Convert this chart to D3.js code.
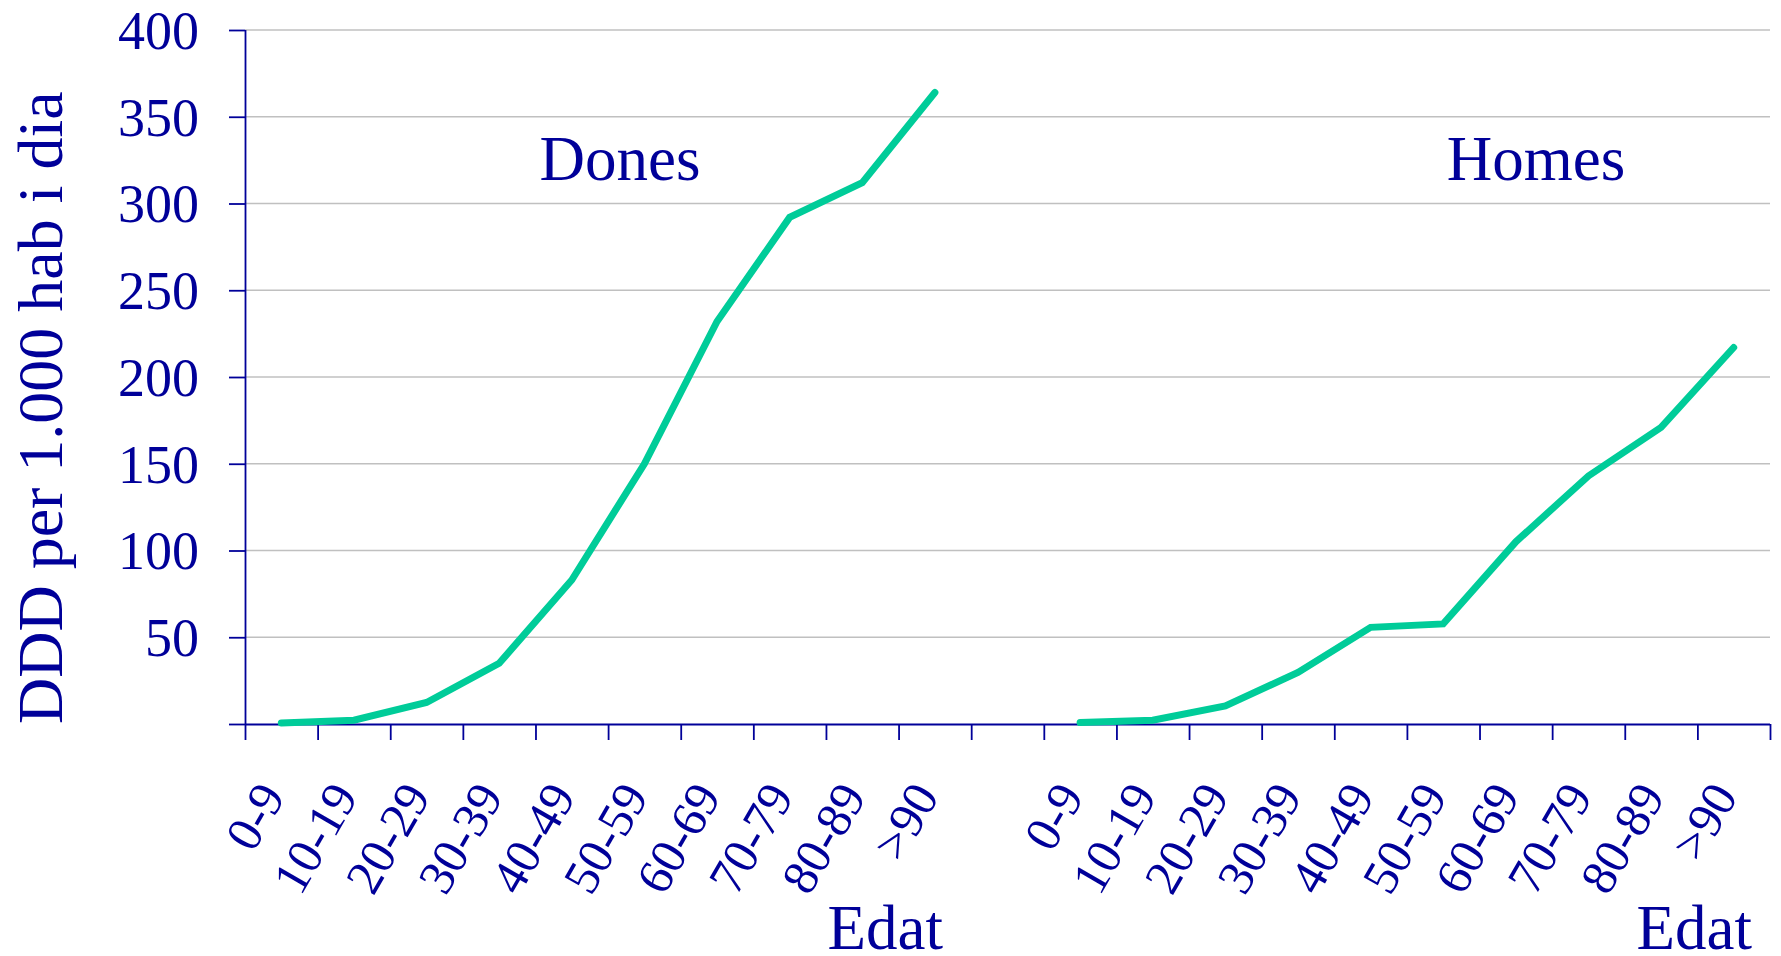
<!DOCTYPE html>
<html>
<head>
<meta charset="utf-8">
<script src="https://cdn.jsdelivr.net/npm/d3@7/dist/d3.min.js"></script>
<style>
  html, body { margin: 0; padding: 0; background: #ffffff; }
  svg { display: block; }
  text { font-family: "Liberation Serif", "Times New Roman", serif; fill: #000099; }
</style>
</head>
<body>
<svg id="chart" width="1781" height="956"></svg>
<script>
// ---- data ----
const ageGroups = ["0-9", "10-19", "20-29", "30-39", "40-49", "50-59", "60-69", "70-79", "80-89", ">90"];
const donesValues = [0.6, 2.2, 12.4, 35, 83, 150, 232, 292, 312, 364];
const homesValues = [0.8, 2.2, 10.4, 29.7, 55.7, 57.7, 105, 143, 171, 217];
const groupLabels = ["Dones", "Homes"];
const yTicks = [50, 100, 150, 200, 250, 300, 350, 400];
const yTitle = "DDD per 1.000 hab i dia";
const xTitle = "Edat";

(function () {
// ---- layout ----
const svg = d3.select("#chart");
const mLeft = 245, mRight = 1770, mTop = 30, mBottom = 724;
const nSlots = ageGroups.length * 2 + 1; // 10 + gap + 10
const x = d3.scaleLinear().domain([0, nSlots]).range([mLeft, mRight]);
const y = d3.scaleLinear().domain([0, 400]).range([mBottom, mTop]);
const blue = "#000099";

// gridlines
svg.append("g")
  .selectAll("line")
  .data(yTicks)
  .join("line")
  .attr("x1", mLeft).attr("x2", mRight)
  .attr("y1", d => y(d)).attr("y2", d => y(d))
  .attr("stroke", "#c0c0c0")
  .attr("stroke-width", 1.5);

// y axis
const yAxis = svg.append("g")
  .attr("transform", `translate(${mLeft},0)`)
  .call(d3.axisLeft(y).tickValues([0].concat(yTicks)).tickSize(16).tickPadding(30)
    .tickFormat(d => d === 0 ? "" : d));
yAxis.select(".domain").attr("stroke", blue).attr("stroke-width", 1.8).attr("d", `M0.5,${mBottom}V${mTop}`);
yAxis.selectAll(".tick line").attr("stroke", blue).attr("stroke-width", 1.8);
yAxis.selectAll(".tick text")
  .attr("fill", blue)
  .style("font-size", "54px")
  .style("font-family", '"Liberation Serif", "Times New Roman", serif')
  .attr("dy", "0.34em");

// x axis (boundary ticks)
const xAxis = svg.append("g")
  .attr("transform", `translate(0,${mBottom})`)
  .call(d3.axisBottom(x).tickValues(d3.range(nSlots + 1)).tickSize(16).tickFormat(""));
xAxis.select(".domain").attr("stroke", blue).attr("stroke-width", 1.8).attr("d", `M${mLeft},0.5H${mRight}`);
xAxis.selectAll(".tick line").attr("stroke", blue).attr("stroke-width", 1.8);

// category labels
const slots = [];
ageGroups.forEach((g, i) => slots.push({ label: g, pos: i + 0.5 }));
ageGroups.forEach((g, i) => slots.push({ label: g, pos: ageGroups.length + 1 + i + 0.5 }));
svg.append("g")
  .selectAll("text")
  .data(slots)
  .join("text")
  .attr("transform", d => `translate(${x(d.pos) + 5},${mBottom + 72}) rotate(-60)`)
  .attr("text-anchor", "end")
  .style("font-size", "50px")
  .text(d => d.label);

// lines
const line = d3.line().x(d => x(d.pos)).y(d => y(d.v));
const series = [
  donesValues.map((v, i) => ({ v, pos: i + 0.5 })),
  homesValues.map((v, i) => ({ v, pos: ageGroups.length + 1 + i + 0.5 }))
];
svg.append("g")
  .selectAll("path")
  .data(series)
  .join("path")
  .attr("d", line)
  .attr("fill", "none")
  .attr("stroke", "#00cc99")
  .attr("stroke-width", 7)
  .attr("stroke-linecap", "round")
  .attr("stroke-linejoin", "miter");

// group labels
svg.append("g")
  .selectAll("text")
  .data(groupLabels)
  .join("text")
  .attr("x", (d, i) => i === 0 ? 620 : 1536)
  .attr("y", 180)
  .attr("text-anchor", "middle")
  .style("font-size", "63px")
  .text(d => d);

// x titles
svg.append("g")
  .selectAll("text")
  .data([943, 1752])
  .join("text")
  .attr("x", d => d)
  .attr("y", 949)
  .attr("text-anchor", "end")
  .style("font-size", "63px")
  .text(xTitle);

// y title
svg.append("text")
  .attr("transform", `translate(62,${mBottom}) rotate(-90)`)
  .attr("text-anchor", "start")
  .style("font-size", "64px")
  .text(yTitle);
})();
</script>
</body>
</html>
